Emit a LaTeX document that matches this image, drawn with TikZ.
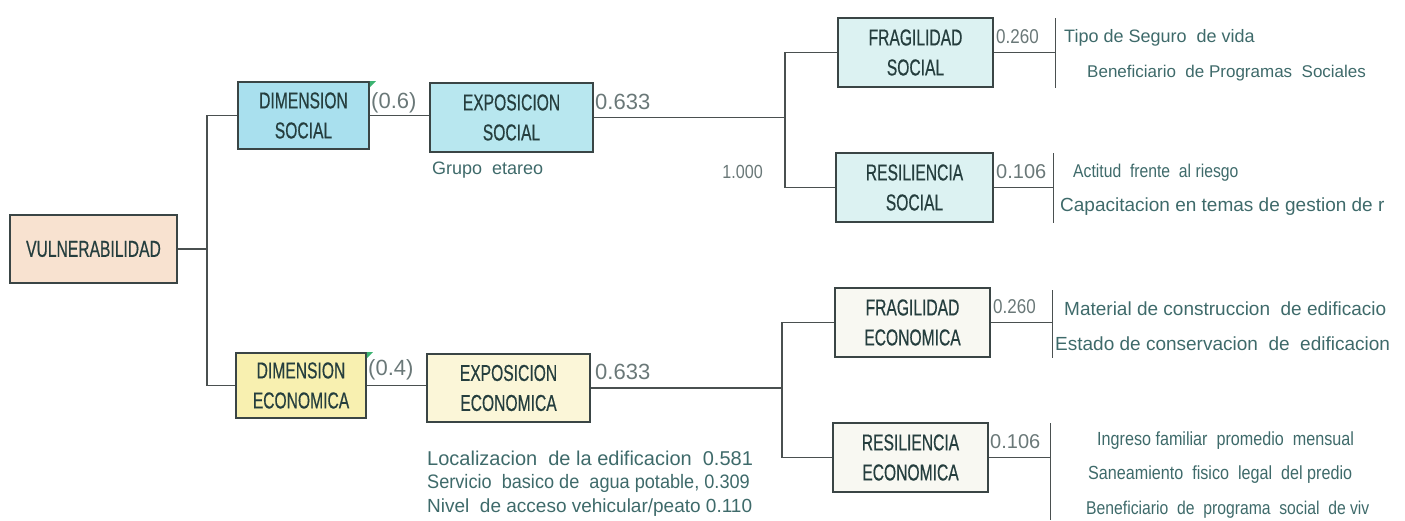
\documentclass[tikz,border=0pt]{standalone}
\usepackage{fontspec}
\setmainfont{Liberation Sans}
\newfontfamily\cajafont[FakeStretch=0.68,FakeBold=0.5]{Liberation Sans}
\newfontfamily\angostafont[FakeStretch=0.85]{Liberation Sans}
\newfontfamily\mediafont[FakeStretch=0.93]{Liberation Sans}
\definecolor{durazno}{HTML}{F8E2D0}
\definecolor{cielo}{HTML}{A9E0EE}
\definecolor{cielob}{HTML}{B8E7EF}
\definecolor{cieloc}{HTML}{DCF2F2}
\definecolor{limon}{HTML}{F8F0B0}
\definecolor{limonb}{HTML}{FBF6D8}
\definecolor{hueso}{HTML}{F8F8F2}
\definecolor{borde}{HTML}{3A4545}
\definecolor{linea}{HTML}{4A5050}
\definecolor{etiq}{HTML}{253E3E}
\definecolor{txt}{HTML}{3E6A6A}
\definecolor{num}{HTML}{6A7878}
\definecolor{marca}{HTML}{3CB371}
\begin{document}
\begin{tikzpicture}[x=1pt,y=-1pt,
	caja/.style={draw=borde,line width=1.6pt,text=etiq,inner sep=0pt,align=center,minimum width=155,minimum height=69,font=\cajafont\fontsize{23}{30}\selectfont},
	enlace/.style={draw=linea,line width=1.3pt},
	nota/.style={text=txt,inner sep=0pt,anchor=west,font=\angostafont\fontsize{18}{22}\selectfont},
	notab/.style={nota,font=\fontsize{19}{22}\selectfont},
	peso/.style={text=num,inner sep=0pt,anchor=west,font=\fontsize{22}{24}\selectfont},
	pesob/.style={peso,font=\angostafont\fontsize{20}{22}\selectfont}]
	\useasboundingbox (0,0) rectangle (1405,520);
	% raiz y dimensiones
	\node[caja,fill=durazno,minimum width=167,minimum height=68] (vul) at (93.5,249) {VULNERABILIDAD};
	\node[caja,fill=cielo,minimum width=131,minimum height=67] (ds) at (303.5,115.5) {DIMENSION\\SOCIAL};
	\node[caja,fill=limon,minimum width=130,minimum height=65] (de) at (301,385.5) {DIMENSION\\ECONOMICA};
	\fill[marca] (ds.north east) -- ++(6,0) -- ++(-6,6) -- cycle;
	\fill[marca] (de.north east) -- ++(6,0) -- ++(-6,6) -- cycle;
	% exposicion
	\node[caja,fill=cielob,minimum width=163] (es) at (511.5,117.5) {EXPOSICION\\SOCIAL};
	\node[caja,fill=limonb,minimum width=163,minimum height=68] (ee) at (508.5,388) {EXPOSICION\\ECONOMICA};
	% fragilidad y resiliencia
	\node[caja,fill=cieloc] (fs) at (915.5,52.5) {FRAGILIDAD\\SOCIAL};
	\node[caja,fill=cieloc,minimum width=157] (rs) at (914.5,187.5) {RESILIENCIA\\SOCIAL};
	\node[caja,fill=hueso] (fe) at (912.5,322.5) {FRAGILIDAD\\ECONOMICA};
	\node[caja,fill=hueso] (re) at (910.5,457.5) {RESILIENCIA\\ECONOMICA};
	% uniones
	\coordinate (j1) at (207,249);
	\coordinate (j2) at (785,117.5);
	\coordinate (j3) at (782,388);
	\draw[enlace] (vul.east) -- (j1);
	\draw[enlace] (ds.west) -| (j1) |- (de.west);
	\draw[enlace] (ds.east) -- (ds.east -| es.west);
	\draw[enlace] (de.east) -- (de.east -| ee.west);
	\draw[enlace] (es.east) -- (j2);
	\draw[enlace] (fs.west) -| (j2) |- (rs.west);
	\draw[enlace] (ee.east) -- (j3);
	\draw[enlace] (fe.west) -| (j3) |- (re.west);
	% barras de indicadores
	\coordinate (bfs) at (1055,52.5); \coordinate (brs) at (1053,187.5);
	\coordinate (bfe) at (1052,322.5); \coordinate (bre) at (1050,457.5);
	\draw[enlace] (fs.east) -- (bfs); \draw[line width=1pt,linea] (1055,18) -- (1055,88);
	\draw[enlace] (rs.east) -- (brs); \draw[line width=1pt,linea] (1053,153) -- (1053,223);
	\draw[enlace] (fe.east) -- (bfe); \draw[line width=1pt,linea] (1052,290) -- (1052,358);
	\draw[enlace] (re.east) -- (bre); \draw[line width=1pt,linea] (1050,423) -- (1050,520);
	% pesos
	\node[peso] (p1) at (371,103) {(0.6)};
	\node[peso] (p2) at (368,370) {(0.4)};
	\node[peso] (p3) at (595,102) {0.633};
	\node[peso] (p4) at (595,372) {0.633};
	\node[pesob,anchor=east,font=\angostafont\fontsize{19}{20}\selectfont] (p5) at (763,172) {1.000};
	\node[pesob] (p6) at (996,37) {0.260};
	\node[pesob,font=\fontsize{20}{22}\selectfont] (p7) at (996,172) {0.106};
	\node[pesob] (p8) at (993,307) {0.260};
	\node[pesob,font=\fontsize{20}{22}\selectfont] (p9) at (990,442) {0.106};
	% indicadores
	\node[nota,font=\fontsize{18}{22}\selectfont] (n1) at (432,170) {Grupo\ \ etareo};
	\node[notab,font=\fontsize{20}{22}\selectfont] (n2) at (427,458) {Localizacion\ \ de la edificacion\ \ 0.581};
	\node[notab,font=\mediafont\fontsize{19.5}{22}\selectfont] (n3) at (427,483) {Servicio\ \ basico de\ \ agua potable, 0.309};
	\node[notab,font=\fontsize{19}{22}\selectfont] (n4) at (427,508) {Nivel\ \ de acceso vehicular/peato 0.110};
	\node[nota,font=\fontsize{18}{22}\selectfont] (n5) at (1064,38) {Tipo\ de Seguro\ \ de vida};
	\node[nota,font=\fontsize{17}{22}\selectfont] (n6) at (1087,73) {Beneficiario\ \ de Programas\ \ Sociales};
	\node[nota,font=\angostafont\fontsize{18.5}{22}\selectfont] (n7) at (1073,173) {Actitud\ \ frente\ \ al riesgo};
	\node[notab] (n8) at (1060,207) {Capacitacion en temas de gestion de r};
	\node[notab] (n9) at (1064,309) {Material de construccion\ \ de edificacio};
	\node[notab] (n10) at (1055,344) {Estado de conservacion\ \ de\ \ edificacion};
	\node[nota,font=\angostafont\fontsize{19}{22}\selectfont] (n11) at (1097,441) {Ingreso familiar\ \ promedio\ \ mensual};
	\node[nota,font=\angostafont\fontsize{19}{22}\selectfont] (n12) at (1088,475) {Saneamiento\ \ fisico\ \ legal\ \ del predio};
	\node[nota,font=\angostafont\fontsize{18.5}{22}\selectfont] (n13) at (1086,510) {Beneficiario\ \ de\ \ programa\ \ social\ \ de viv};
\end{tikzpicture}
\end{document}
